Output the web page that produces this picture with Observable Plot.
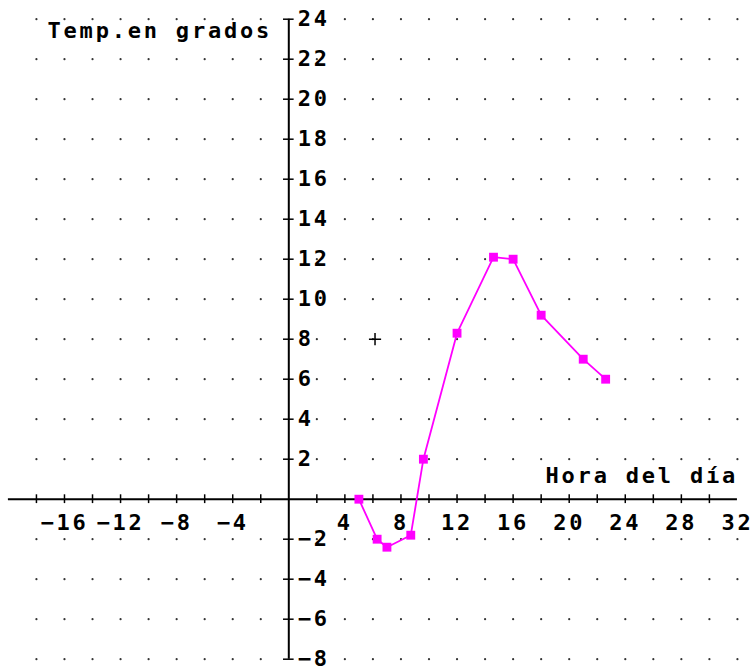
<!DOCTYPE html>
<html><head><meta charset="utf-8">
<script src="https://cdn.jsdelivr.net/npm/d3@7"></script>
<script src="https://cdn.jsdelivr.net/npm/@observablehq/plot@0.6"></script>
<style>
html,body{margin:0;padding:0;background:#fff;}
#chart svg{display:block;background:#fff;}
#chart svg text{font-family:"DejaVu Sans Mono",monospace;font-weight:bold;letter-spacing:2.8px;}
</style></head><body><div id="chart"></div>
<script>
// Data
const hours = [5, 6.3, 7, 8.7, 9.6, 12, 14.6, 16, 18, 21, 22.6];
const temps = [0, -2, -2.4, -1.8, 2, 8.3, 12.1, 12, 9.2, 7, 6];

// Grid, ticks and labels
const gridX = [-18,-16,-14,-12,-10,-8,-6,-4,-2,2,4,6,8,10,12,14,16,18,20,22,24,26,28,30,32];
const gridY = [-8,-6,-4,-2,2,4,6,8,10,12,14,16,18,20,22,24];
const xTickValues = [-18,-16,-14,-12,-10,-8,-6,-4,-2,2,4,6,8,10,12,14,16,18,20,22,24,26,28,30];
const yTickValues = [-8,-6,-4,-2,2,4,6,8,10,12,14,16,18,20,22,24];
const xLabelValues = [-16,-12,-8,-4,4,8,12,16,20,24,28,32];
const yLabelValues = [-8,-6,-4,-2,2,4,6,8,10,12,14,16,18,20,22,24];
const xAxisExtent = [-20, 32];
const yAxisExtent = [-8, 24];
const xTitle = "Hora del día";
const yTitle = "Temp.en grados";
const cursor = [{x: 6.15, y: 8}];

const data = hours.map((h, i) => ({hour: h, temp: temps[i]}));
const grid = gridX.flatMap(x => gridY.map(y => ({x, y})));
const fmt = d => String(d).replace("-", "\u2212");

const W = 750, H = 667, x0 = 288.3, y0 = 498.7, kx = 14.02, ky = 20;

const chart = Plot.plot({
  width: W, height: H,
  marginLeft: 0, marginRight: 0, marginTop: 0, marginBottom: 0,
  x: {domain: [-x0 / kx, (W - x0) / kx], axis: null},
  y: {domain: [-(H - y0) / ky, y0 / ky], axis: null},
  style: {background: "#fff", overflow: "visible"},
  marks: [
    Plot.dot(grid, {x: "x", y: "y", r: 1.1, fill: "#333", stroke: "none"}),
    Plot.ruleY([0], {x1: xAxisExtent[0], x2: xAxisExtent[1], stroke: "#000", strokeWidth: 2}),
    Plot.ruleX([0], {y1: yAxisExtent[0], y2: yAxisExtent[1], stroke: "#000", strokeWidth: 2}),
    Plot.ruleX(xTickValues, {x: d => d, y1: -0.22, y2: 0.22, stroke: "#000", strokeWidth: 1.5}),
    Plot.ruleY(yTickValues, {y: d => d, x1: -0.38, x2: 0.38, stroke: "#000", strokeWidth: 1.5}),
    Plot.text(yLabelValues, {x: 0, y: d => d, text: fmt, dx: 9, textAnchor: "start", fontSize: 22, fill: "#000"}),
    Plot.text(xLabelValues, {x: d => d, y: 0, text: fmt, dy: 24, textAnchor: "middle", fontSize: 22, fill: "#000"}),
    Plot.text([yTitle], {frameAnchor: "top-left", dx: 47, dy: 30, lineAnchor: "middle", textAnchor: "start", fontSize: 22, fill: "#000"}),
    Plot.text([xTitle], {frameAnchor: "top-left", dx: 545, dy: 475, lineAnchor: "middle", textAnchor: "start", fontSize: 22, fill: "#000"}),
    Plot.dot(cursor, {x: "x", y: "y", symbol: "plus", r: 4, stroke: "#000", strokeWidth: 1.5}),
    Plot.line(data, {x: "hour", y: "temp", stroke: "#ff00ff", strokeWidth: 1.8}),
    Plot.dot(data, {x: "hour", y: "temp", symbol: "square", r: 5, fill: "#ff00ff", stroke: "none"})
  ]
});
document.getElementById("chart").appendChild(chart);
</script></body></html>
